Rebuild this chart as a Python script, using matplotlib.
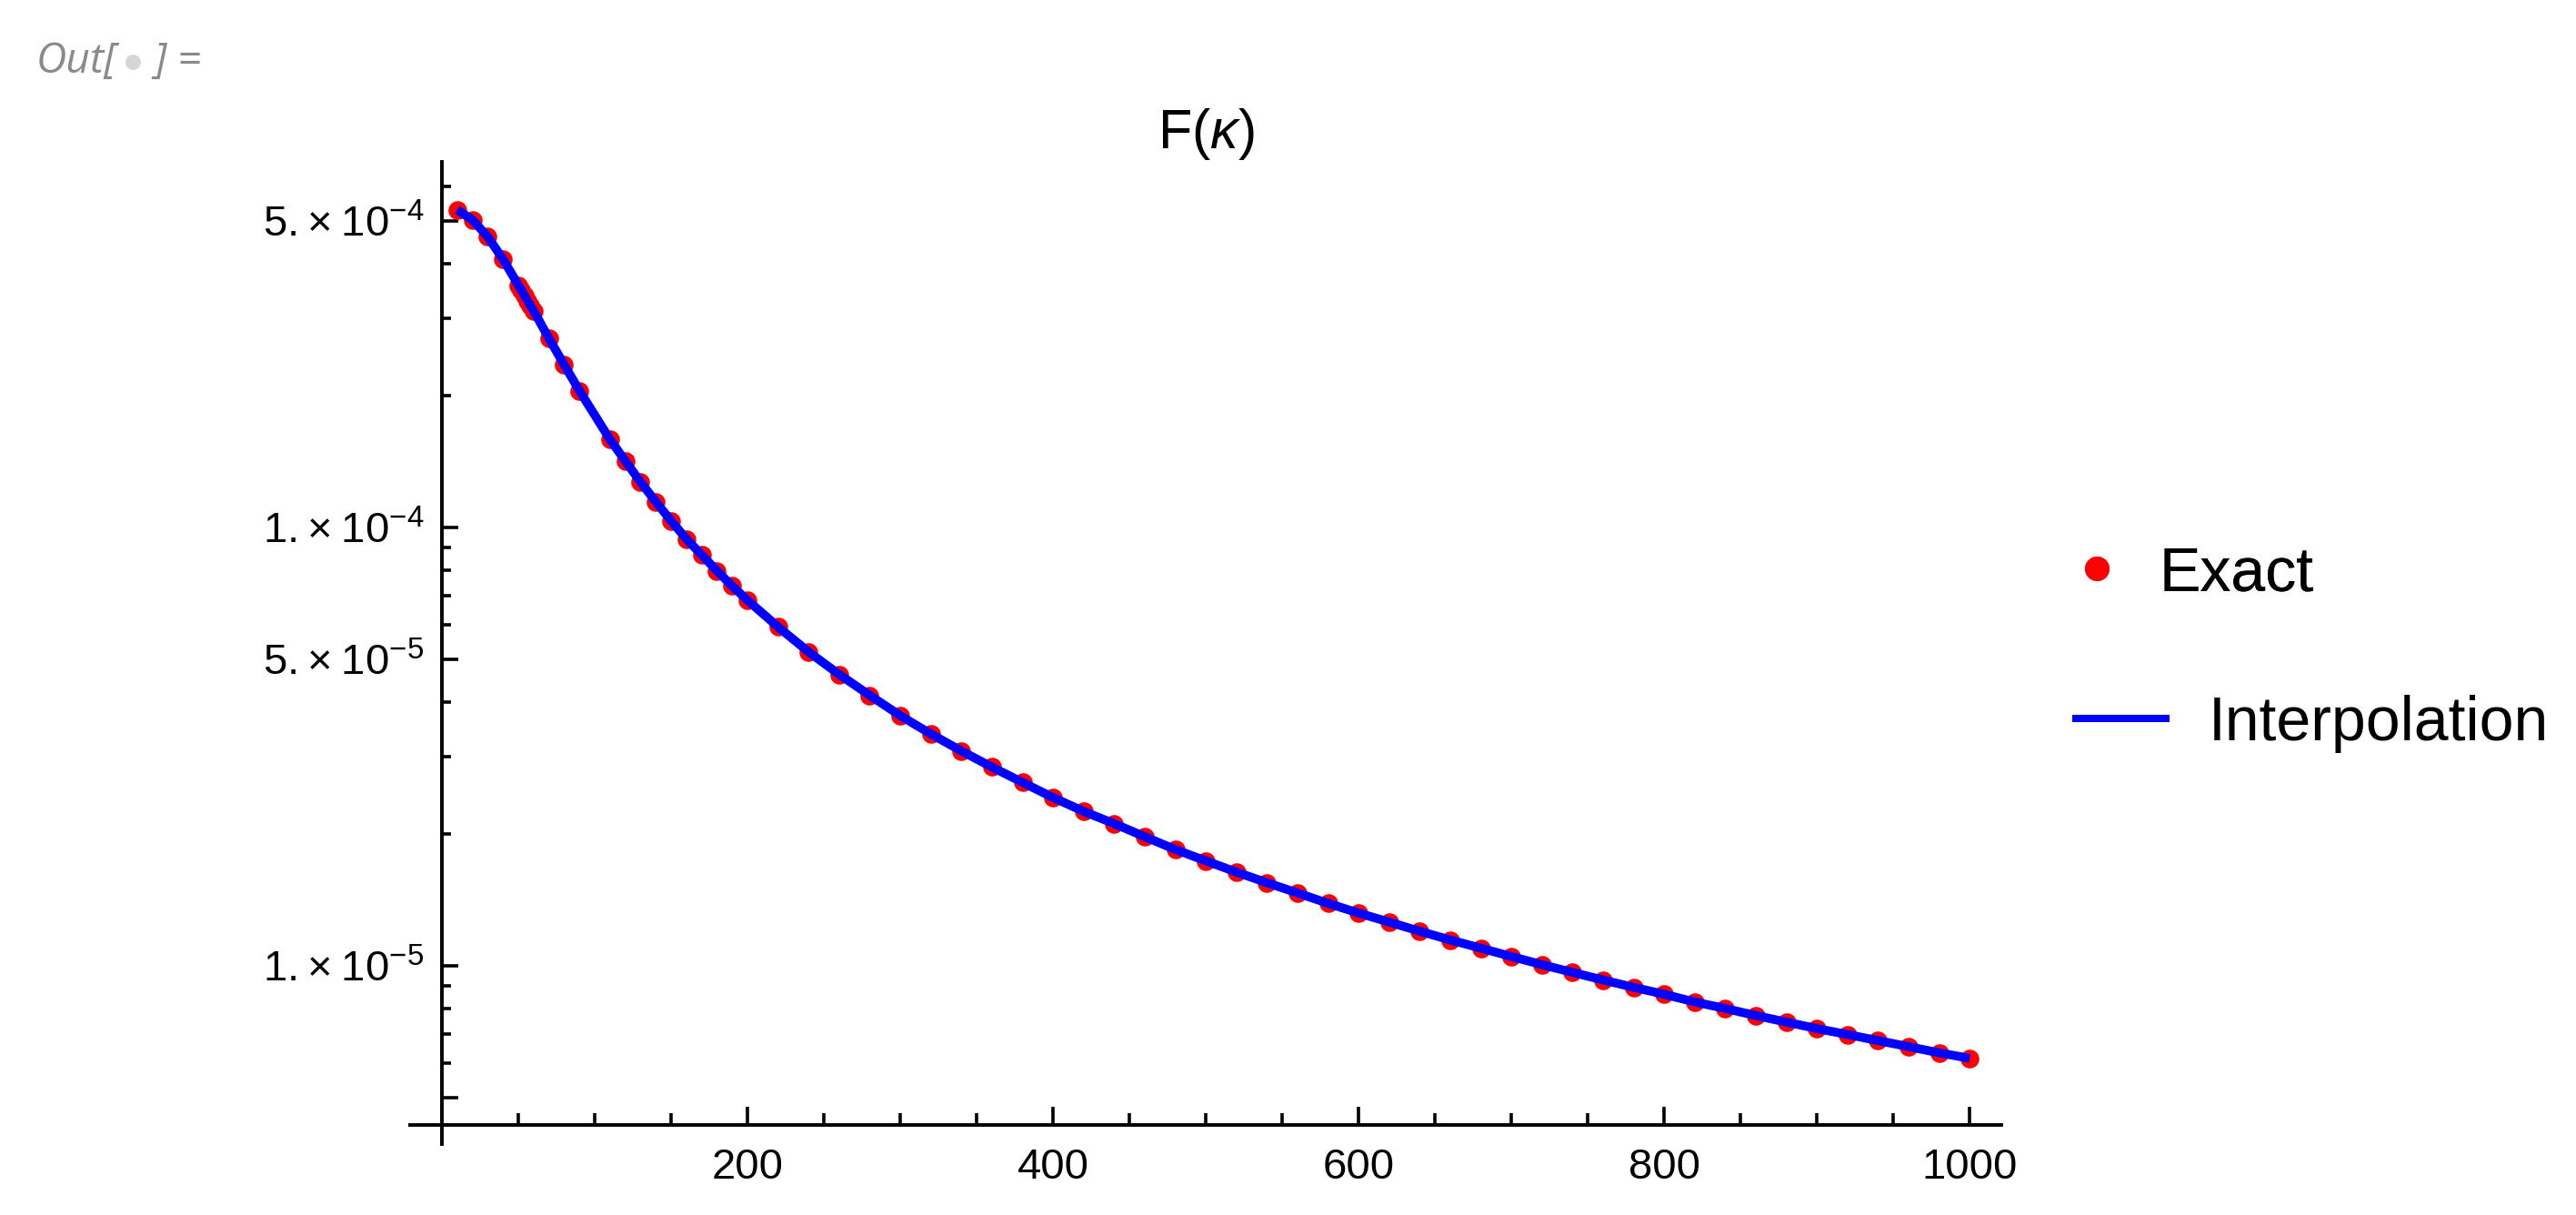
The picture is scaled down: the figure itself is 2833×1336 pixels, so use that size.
import matplotlib
matplotlib.use('Agg')
import matplotlib.pyplot as plt
from matplotlib.ticker import FixedLocator, FixedFormatter, NullFormatter
from matplotlib.lines import Line2D

plt.rcParams['font.family'] = ['Liberation Sans', 'DejaVu Sans']
plt.rcParams['mathtext.fontset'] = 'custom'
plt.rcParams['mathtext.rm'] = 'Liberation Sans'
plt.rcParams['mathtext.it'] = 'Liberation Sans:italic'

# valores (kappa, F(kappa))
kappa = [10, 20, 30, 40, 50, 52, 54, 56, 58, 60, 70, 80, 90,
         110, 120, 130, 140, 150, 160, 170, 180, 190, 200,
         220, 240, 260, 280, 300, 320, 340, 360, 380, 400,
         420, 440, 460, 480, 500, 520, 540, 560, 580, 600,
         620, 640, 660, 680, 700, 720, 740, 760, 780, 800,
         820, 840, 860, 880, 900, 920, 940, 960, 980, 1000]
F_exact = [5.30e-4, 5.03e-4, 4.60e-4, 4.09e-4, 3.57e-4, 3.48e-4, 3.38e-4, 3.29e-4, 3.20e-4, 3.12e-4,
           2.70e-4, 2.35e-4, 2.05e-4,
           1.587e-4, 1.418e-4, 1.269e-4, 1.144e-4, 1.035e-4, 9.41e-5, 8.66e-5, 7.96e-5, 7.35e-5, 6.82e-5,
           5.93e-5, 5.20e-5, 4.62e-5, 4.14e-5, 3.72e-5, 3.38e-5, 3.09e-5, 2.84e-5, 2.62e-5, 2.42e-5,
           2.25e-5, 2.11e-5, 1.97e-5, 1.842e-5, 1.735e-5, 1.636e-5, 1.547e-5, 1.466e-5, 1.388e-5, 1.319e-5,
           1.258e-5, 1.199e-5, 1.145e-5, 1.097e-5, 1.050e-5, 1.006e-5, 9.66e-6, 9.28e-6, 8.93e-6, 8.61e-6,
           8.27e-6, 7.99e-6, 7.70e-6, 7.44e-6, 7.19e-6, 6.97e-6, 6.75e-6, 6.54e-6, 6.33e-6, 6.15e-6]
F_interp = F_exact

xticks_major = [200, 400, 600, 800, 1000]
xticks_minor = [50, 100, 150, 250, 300, 350, 450, 500, 550, 650, 700, 750, 850, 900, 950]
yticks_major = [5e-6, 1e-5, 5e-5, 1e-4, 5e-4]
ylabels_major = ['', '1.\u2009×\u200910$^{-5}$', '5.\u2009×\u200910$^{-5}$',
                 '1.\u2009×\u200910$^{-4}$', '5.\u2009×\u200910$^{-4}$']
yticks_minor = [6e-6, 7e-6, 8e-6, 9e-6, 2e-5, 3e-5, 4e-5, 6e-5, 7e-5, 8e-5, 9e-5,
                2e-4, 3e-4, 4e-4, 6e-4]

W, H = 2833, 1336
fig = plt.figure(figsize=(W / 200, H / 200), dpi=200)
ax = fig.add_axes([451 / W, 1 - 1258 / H, (2201 - 451) / W, (1258 - 178) / H])

pts, = ax.plot(kappa, F_exact, 'o', color='#ff0000', ms=7.4, mew=0, label='Exact', zorder=2)
lin, = ax.plot(kappa, F_interp, '-', color='#0000ff', lw=3.5, solid_capstyle='butt',
               solid_joinstyle='round', label='Interpolation', zorder=3)

ax.set_yscale('log')
ax.set_xlim(-20.85, 1020.7)
ax.set_ylim(3.92e-6, 6.82e-4)

# eixos cruzando como no Mathematica
ax.spines['left'].set_position(('data', 0))
ax.spines['bottom'].set_position(('data', 4.335e-6))
ax.spines['top'].set_visible(False)
ax.spines['right'].set_visible(False)
for s in ['left', 'bottom']:
    ax.spines[s].set_linewidth(1.4)

ax.xaxis.set_major_locator(FixedLocator(xticks_major))
ax.xaxis.set_minor_locator(FixedLocator(xticks_minor))
ax.yaxis.set_major_locator(FixedLocator(yticks_major))
ax.yaxis.set_major_formatter(FixedFormatter(ylabels_major))
ax.yaxis.set_minor_locator(FixedLocator(yticks_minor))
ax.yaxis.set_minor_formatter(NullFormatter())

ax.tick_params(axis='x', which='major', direction='in', length=7.2, width=1.3, pad=9, labelsize=17)
ax.tick_params(axis='x', which='minor', direction='in', length=4.6, width=1.3)
ax.tick_params(axis='y', which='major', direction='in', length=6.5, width=1.3, pad=7, labelsize=17)
ax.tick_params(axis='y', which='minor', direction='in', length=3.6, width=1.3)

ax.set_title(r'$\mathregular{F(}\mathit{\kappa}\mathregular{)}$', fontsize=22, pad=5.4)

# legenda fora do grafico, em duas partes
leg1 = fig.legend(handles=[pts], loc='center left', bbox_to_anchor=(2272 / W, 1 - 631 / H),
                  frameon=False, fontsize=24.5, handlelength=1.0, handletextpad=0.5,
                  borderpad=0, borderaxespad=0, markerscale=1.31)
leg2 = fig.legend(handles=[lin], loc='center left', bbox_to_anchor=(2279 / W, 1 - 796 / H),
                  frameon=False, fontsize=24.5, handlelength=1.574, handletextpad=0.62,
                  borderpad=0, borderaxespad=0)
leg2.get_lines()[0].set_linewidth(2.9)
fig.add_artist(leg1)

# rotulo Out[ ]= do notebook
fig.text(40 / W, 1 - 80 / H, 'Out[', fontsize=16.6, family='Open Sans', style='italic', color='#8a8a8a')
fig.add_artist(Line2D([145.8 / W], [1 - 68.3 / H], marker='o', ms=6.1, mew=0, color='#d6d6d6',
                      transform=fig.transFigure))
fig.text(169 / W, 1 - 80 / H, ']', fontsize=16.6, family='Open Sans', style='italic', color='#8a8a8a')
fig.text(194 / W, 1 - 80 / H, '=', fontsize=16.6, family='Open Sans', style='italic', color='#8a8a8a')

fig.savefig('out.png', dpi=200)
